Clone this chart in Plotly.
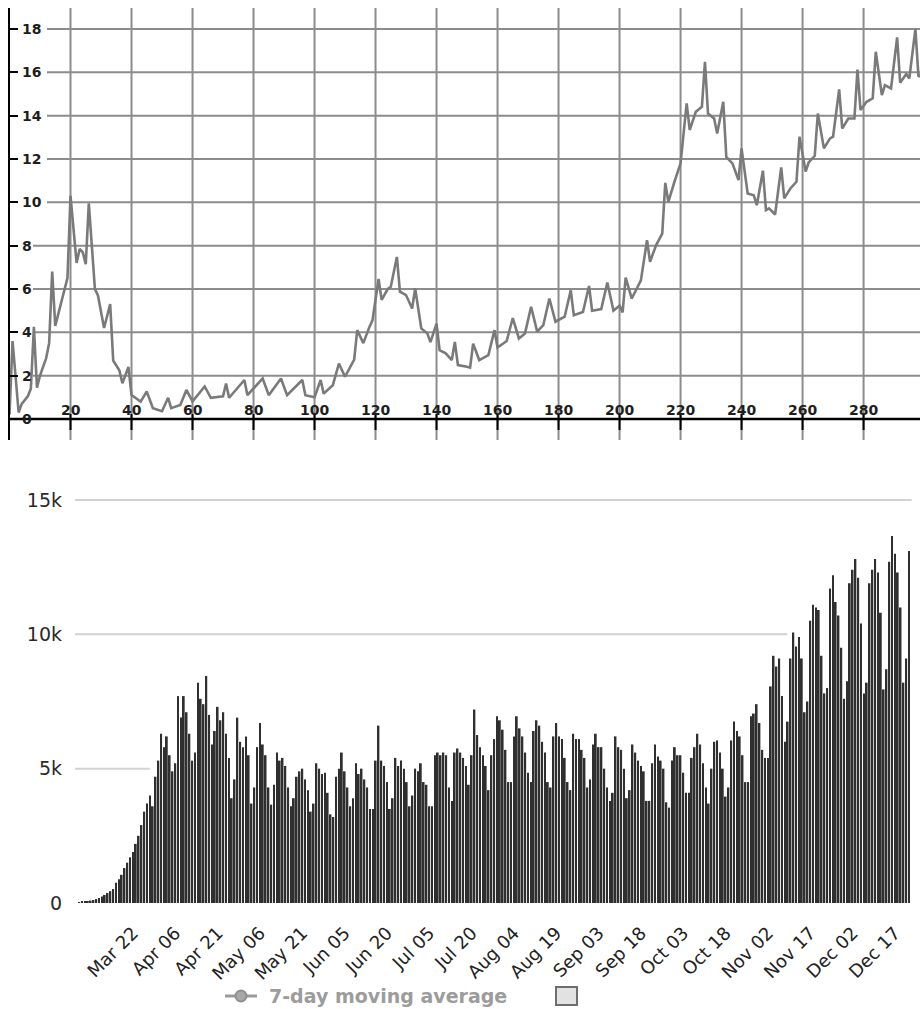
import pandas as pd
import plotly.graph_objects as go

# ---------------- upper panel: daily rate line ----------------
day = [0, 1, 3, 4, 6, 7, 8, 9, 10, 11, 12, 13, 14, 15, 17, 18, 19, 20, 22, 23,
       24, 25, 26, 28, 29, 31, 33, 34, 36, 37, 39, 40, 43, 45, 47, 50, 52, 53, 56, 58,
       60, 64, 66, 70, 71, 72, 77, 78, 83, 85, 89, 91, 96, 97, 100, 102, 103, 106, 108, 110,
       113, 114, 116, 118, 119, 121, 122, 124, 125, 127, 128, 130, 132, 133, 135, 137, 138, 140, 141, 143,
       145, 146, 147, 150, 151, 152, 154, 157, 159, 160, 163, 165, 167, 169, 171, 173, 175, 177, 179, 182,
       184, 185, 188, 190, 191, 194, 196, 198, 200, 201, 202, 204, 206, 207, 209, 210, 212, 214, 215, 216,
       218, 220, 222, 223, 225, 227, 228, 229, 231, 232, 234, 235, 237, 239, 240, 242, 244, 245, 247, 248,
       249, 251, 253, 254, 256, 258, 259, 261, 262, 264, 265, 267, 269, 270, 272, 273, 275, 277, 278, 279,
       281, 283, 284, 286, 287, 289, 291, 292, 294, 295, 297, 298, 299]
rate = [0.2, 3.6, 0.3, 0.7, 1.05, 1.4, 4.25, 1.45, 2.0, 2.4, 2.8, 3.5, 6.8, 4.3, 5.4, 5.9, 6.5, 10.3, 7.2, 7.85,
        7.7, 7.15, 9.95, 6.0, 5.7, 4.2, 5.3, 2.7, 2.25, 1.65, 2.4, 1.1, 0.8, 1.27, 0.5, 0.36, 0.98, 0.5, 0.65, 1.34,
        0.81, 1.5, 0.98, 1.05, 1.64, 0.98, 1.8, 1.1, 1.87, 1.1, 1.87, 1.1, 1.8, 1.1, 1.0, 1.8, 1.17, 1.56, 2.56, 1.95,
        2.74, 4.1, 3.5, 4.25, 4.55, 6.46, 5.5, 6.0, 6.1, 7.48, 5.88, 5.72, 5.1, 6.02, 4.18, 3.95, 3.55, 4.4, 3.18, 3.03,
        2.72, 3.56, 2.49, 2.41, 2.37, 3.48, 2.72, 2.95, 4.1, 3.3, 3.6, 4.66, 3.72, 3.95, 5.18, 4.03, 4.33, 5.56, 4.49, 4.72,
        5.94, 4.79, 4.94, 6.14, 5.0, 5.07, 6.3, 5.0, 5.23, 4.92, 6.52, 5.56, 6.1, 6.4, 8.25, 7.26, 8.03, 8.56, 10.9, 10.02,
        10.95, 11.8, 14.57, 13.34, 14.18, 14.41, 16.49, 14.1, 13.87, 13.18, 14.64, 12.1, 11.8, 11.03, 12.49, 10.41, 10.33, 9.87, 11.46, 9.64,
        9.72, 9.44, 11.61, 10.18, 10.64, 10.95, 13.03, 11.42, 11.84, 12.15, 14.1, 12.49, 12.95, 13.03, 15.21, 13.41, 13.87, 13.87, 16.13, 14.26,
        14.64, 14.8, 16.95, 14.95, 15.41, 15.26, 17.61, 15.52, 15.92, 15.72, 18.0, 15.8, 15.9]

top_xticks = [20, 40, 60, 80, 100, 120, 140, 160, 180, 200, 220, 240, 260, 280]
top_yticks = [2, 4, 6, 8, 10, 12, 14, 16, 18]

# ---------------- lower panel: daily new cases ----------------
cases = [
    30, 40, 50, 70, 90, 110,                                  # Mar 3-8
    150, 190, 240, 300, 370, 440, 520,
    750, 880, 1050, 1300, 1500, 1700, 1900,
    2200, 2500, 2900, 3400, 3700, 4000, 3600,
    4700, 5300, 6300, 5800, 6200, 5500, 4900,
    5200, 7700, 6900, 7700, 7100, 6300, 5300,
    5600, 8200, 7600, 7400, 8450, 7000, 5900,
    6400, 7300, 6800, 7100, 6300, 5400, 3900,
    4600, 6900, 6000, 5800, 6200, 5500, 3700,
    4300, 5800, 6700, 5900, 5500, 4300, 3660,
    4400, 5600, 5300, 5400, 5100, 4300, 3600,
    3900, 4700, 4900, 5000, 4600, 4200, 3400,
    3700, 5200, 5000, 4800, 4850, 4100, 3300,
    3200, 4700, 5000, 5600, 4900, 4300, 3600,
    3900, 5200, 4800, 5000, 4600, 4300, 3500,
    3500, 5300, 6600, 5300, 5100, 4500, 3500,
    3900, 5400, 5100, 5300, 5000, 4500, 3600,
    4000, 5000, 4900, 5200, 4500, 4400, 3600,
    3600, 5500, 5600, 5500, 5600, 5500, 4300,
    3800, 5600, 5750, 5600, 5400, 5100, 4400,
    5500, 7200, 6250, 5800, 5500, 5100, 4200,
    5500, 6100, 6950, 6800, 6450, 5700, 4500,
    4500, 6200, 6950, 6500, 6200, 5600, 4850,
    4500, 6400, 6800, 6600, 6000, 5600, 4500,
    4300, 6200, 6700, 6200, 6100, 5400, 4500,
    4200, 6300, 6100, 6100, 5700, 5400, 4300,
    4600, 5900, 6300, 5800, 5800, 5000, 4300,
    3800, 4100, 6200, 5800, 5700, 5000, 3900,
    4200, 5900, 5600, 5300, 5100, 4900, 3800,
    3800, 5200, 5900, 5450, 5300, 5000, 3750,
    3550, 5300, 5800, 5500, 5500, 4850, 4100,
    4100, 5400, 5800, 6300, 5900, 5200, 4300,
    3700, 5000, 6000, 6050, 5600, 5000, 3960,
    4300, 6050, 6750, 6400, 6200, 5500, 4500,
    4500, 6950, 7050, 7400, 6700, 5700, 5400,
    5400, 8060, 9200, 8800, 9100, 7700, 6000,
    6750, 9100, 10070, 9550, 9900, 9100, 7100,
    7500, 10500, 11100, 11000, 10900, 9200, 7800,
    8000, 11700, 12200, 11200, 10700, 9500, 7600,
    8250, 11900, 12400, 12800, 12100, 10400, 7800,
    8200, 11900, 12400, 12800, 12300, 10800, 7950,
    8700, 12700, 13660, 13000, 12300, 11000, 8200,
    9100, 13100,                                              # Dec 21-22
]
dates = pd.date_range("2020-03-03", periods=len(cases), freq="D")

tick_dates = ["2020-03-22", "2020-04-06", "2020-04-21", "2020-05-06", "2020-05-21",
              "2020-06-05", "2020-06-20", "2020-07-05", "2020-07-20", "2020-08-04",
              "2020-08-19", "2020-09-03", "2020-09-18", "2020-10-03", "2020-10-18",
              "2020-11-02", "2020-11-17", "2020-12-02", "2020-12-17"]
tick_labels = ["Mar 22", "Apr 06", "Apr 21", "May 06", "May 21", "Jun 05", "Jun 20",
               "Jul 05", "Jul 20", "Aug 04", "Aug 19", "Sep 03", "Sep 18", "Oct 03",
               "Oct 18", "Nov 02", "Nov 17", "Dec 02", "Dec 17"]
case_yticks = [0, 5000, 10000, 15000]
case_ylabels = ["0", "5k", "10k", "15k"]

# gridline extents (fraction of the lower plot width) for each level
grid_levels = [5000, 10000, 15000]
grid_ends = [0.089, 0.848, 0.996]

W, H = 920, 1009


def fx(px):
    return px / W


def fy(px):
    return 1 - px / H


GRID = "#8c8c8c"
LABEL_FONT = dict(family="DejaVu Sans", size=14, color="#1e1e1e", weight="bold")

fig = go.Figure()
fig.add_trace(go.Scatter(x=day, y=rate, mode="lines",
                         line=dict(color="#7a7a7a", width=2.6),
                         xaxis="x", yaxis="y", showlegend=False, hoverinfo="skip"))
fig.add_trace(go.Bar(x=dates, y=cases, marker=dict(color="#2f2f2f", line_width=0),
                     xaxis="x2", yaxis="y2", showlegend=False))

shapes = []
# vertical grid of the upper panel (runs through and below the axis line)
for t in top_xticks:
    shapes.append(dict(type="line", xref="x", yref="y domain", x0=t, x1=t, y0=0, y1=1,
                       line=dict(color=GRID, width=2), layer="below"))
# horizontal grid of the upper panel, starting just after each value label
for v in top_yticks:
    start = fx(33) if v < 10 else fx(47)
    shapes.append(dict(type="line", xref="paper", yref="y", x0=start, x1=1, y0=v, y1=v,
                       line=dict(color=GRID, width=2), layer="below"))
# axis line at zero and its tick marks
shapes.append(dict(type="line", xref="x domain", yref="y", x0=0, x1=1, y0=0, y1=0,
                   line=dict(color="black", width=2.5)))
for t in top_xticks:
    shapes.append(dict(type="line", xref="x", yref="y", ysizemode="pixel", yanchor=0,
                       x0=t, x1=t, y0=5, y1=-11, line=dict(color="black", width=2)))
# horizontal grid of the lower panel
for lv, end in zip(grid_levels, grid_ends):
    shapes.append(dict(type="line", xref="x2 domain", yref="y2", x0=0, x1=end, y0=lv, y1=lv,
                       line=dict(color="#d2d2d2", width=2), layer="below"))

# legend drawn by hand under the lower panel
shapes.append(dict(type="line", xref="paper", yref="paper", x0=fx(225), x1=fx(257),
                   y0=fy(996), y1=fy(996), line=dict(color="#9a9a9a", width=3)))
shapes.append(dict(type="circle", xref="paper", yref="paper", x0=fx(235.5), x1=fx(246.5),
                   y0=fy(1001.5), y1=fy(990.5), fillcolor="#a8a8a8",
                   line=dict(color="#8f8f8f", width=2)))
shapes.append(dict(type="rect", xref="paper", yref="paper", x0=fx(556), x1=fx(577),
                   y0=fy(1005), y1=fy(987), fillcolor="#e2e2e2",
                   line=dict(color="#6e6e6e", width=2)))

annotations = []
for v in [0] + top_yticks:
    annotations.append(dict(x=fx(20), xref="paper", y=v, yref="y", xanchor="left",
                            yanchor="middle", text=str(v), showarrow=False,
                            font=LABEL_FONT))
for t in top_xticks:
    annotations.append(dict(x=t, xref="x", y=0, yref="y", xanchor="center",
                            yanchor="middle", yshift=9, text=str(t), showarrow=False,
                            font=LABEL_FONT))
annotations.append(dict(x=fx(267), xref="paper", y=fy(996), yref="paper", xanchor="left",
                        yanchor="middle", text="7-day moving average", showarrow=False,
                        font=dict(family="DejaVu Sans", size=19, color="#9c9c9c",
                                  weight="bold")))

fig.update_layout(
    width=W, height=H,
    margin=dict(l=0, r=0, t=0, b=0, autoexpand=False),
    paper_bgcolor="white", plot_bgcolor="white",
    bargap=0.38,
    xaxis=dict(domain=[fx(9.5), 1], range=[0, 298.5], anchor="y",
               showline=False, ticks="", showticklabels=False, showgrid=False,
               zeroline=False),
    yaxis=dict(domain=[fy(440), fy(8)], range=[-0.97, 18.97], anchor="x",
               showline=True, linecolor="black", linewidth=2,
               tickvals=[0] + top_yticks, ticks="inside", ticklen=8, tickwidth=2,
               tickcolor="black", showticklabels=False,
               showgrid=False, zeroline=False),
    xaxis2=dict(domain=[fx(75), fx(915)], anchor="y2", type="date",
                range=["2020-03-01 10:48", "2020-12-24 02:24"],
                tickvals=tick_dates, ticktext=tick_labels, tickangle=-45,
                ticks="", ticklabelstandoff=15, showgrid=False, showline=False,
                zeroline=False,
                tickfont=dict(family="DejaVu Sans", size=18, color="#222222")),
    yaxis2=dict(domain=[fy(903), fy(490)], range=[0, 15370], anchor="x2",
                tickvals=case_yticks, ticktext=case_ylabels, ticks="",
                ticklabelstandoff=12, showgrid=False, showline=False, zeroline=False,
                tickfont=dict(family="DejaVu Sans", size=19, color="#2a2a2a")),
    shapes=shapes,
    annotations=annotations,
)

fig.write_html("out.html")
